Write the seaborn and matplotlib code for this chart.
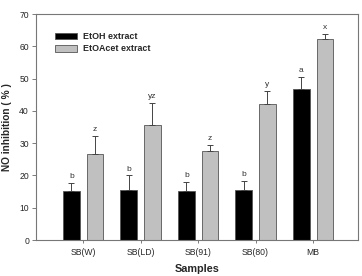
import pandas as pd
import matplotlib
matplotlib.use("Agg")
import matplotlib.pyplot as plt
import seaborn as sns

samples = ["SB(W)", "SB(LD)", "SB(91)", "SB(80)", "MB"]
etoh = [15.1, 15.6, 15.1, 15.6, 46.9]
etoac = [26.7, 35.7, 27.5, 42.1, 62.3]
etoh_err = [2.5, 4.4, 3.0, 2.6, 3.6]
etoac_err = [5.5, 6.8, 2.0, 4.0, 1.6]
etoh_letters = ["b", "b", "b", "b", "a"]
etoac_letters = ["z", "yz", "z", "y", "x"]
series = ["EtOH extract", "EtOAcet extract"]

ds = pd.DataFrame({
    "sample": samples * 2,
    "value": etoh + etoac,
    "extract": [series[0]] * 5 + [series[1]] * 5,
})

sns.set_style("white")
plt.rcParams["font.family"] = ["Liberation Sans", "DejaVu Sans"]

fig = plt.figure(figsize=(3.62, 2.76), dpi=100)
ax = fig.add_axes([36 / 362, 1 - 240 / 276, 322 / 362, 226 / 276])

sns.barplot(data=ds, x="sample", y="value", hue="extract", order=samples,
            hue_order=series, palette=["black", "#c0c0c0"], width=0.82, gap=0.29,
            errorbar=None, edgecolor="#555555", linewidth=0.6, ax=ax)

# error bars (upper only) and letters from the drawn bars
errs = [etoh_err, etoac_err]
letters = [etoh_letters, etoac_letters]
vals = [etoh, etoac]
bar_groups = list(ax.containers)
for k, cont in enumerate(bar_groups):
    for i, bar in enumerate(cont):
        xc = bar.get_x() + bar.get_width() / 2
        ax.errorbar(xc, vals[k][i], yerr=[[0], [errs[k][i]]], color="#444444",
                    capsize=2.5, elinewidth=0.7, capthick=0.7)
        ax.text(xc, vals[k][i] + errs[k][i] + 0.9, letters[k][i], ha="center",
                va="bottom", fontsize=6, color="#333333")

ax.set_ylim(0, 70)
ax.set_xlim(-0.82, 4.78)
ax.set_yticks(range(0, 71, 10))
ax.tick_params(axis="y", direction="out", length=3, width=0.6, color="#666666",
               labelsize=6.2, pad=2, left=True)
ax.tick_params(axis="x", direction="out", length=2, width=0.6, color="#666666",
               labelsize=6.2, pad=4, bottom=True)
for s in ax.spines.values():
    s.set_color("#777777")
    s.set_linewidth(0.8)

ax.set_ylabel("NO inhibition ( % )", fontweight="bold", fontsize=7.3, labelpad=5)
ax.set_xlabel("Samples", fontweight="bold", fontsize=7.8, labelpad=5)

leg = ax.legend(loc="upper left", bbox_to_anchor=(0.035, 0.955), frameon=False,
                prop={"weight": "bold", "size": 6.4}, handlelength=2.5,
                handleheight=0.8, labelspacing=0.35, handletextpad=0.6)

fig.savefig("out.png", dpi=100)
